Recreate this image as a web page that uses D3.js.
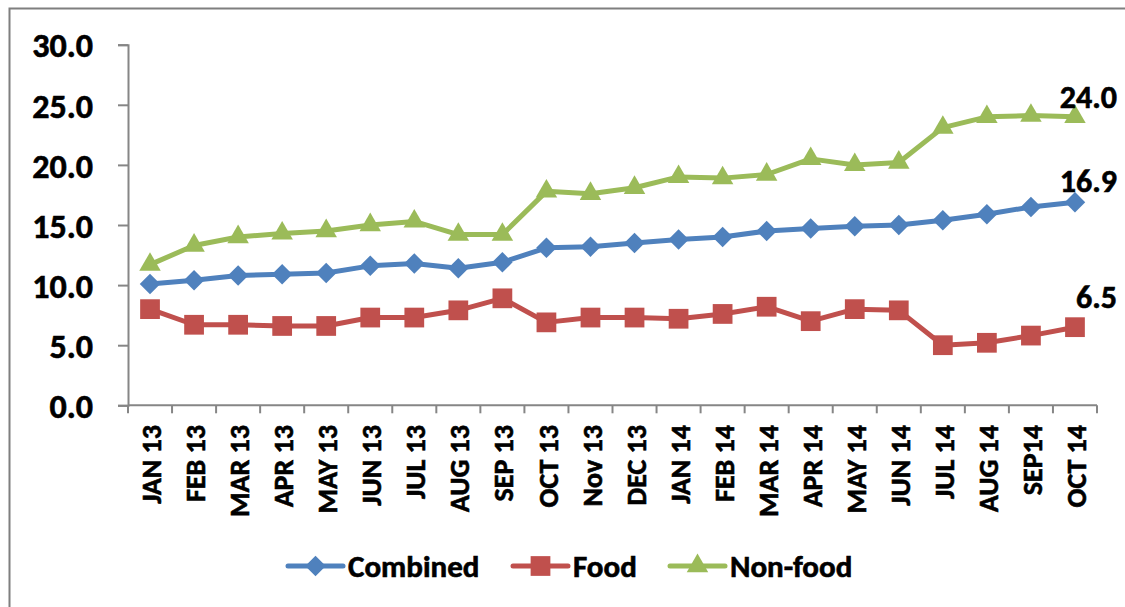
<!DOCTYPE html>
<html>
<head>
<meta charset="utf-8">
<script src="https://cdn.jsdelivr.net/npm/d3@7/dist/d3.min.js"></script>
<style>
  body { margin: 0; background: #fff; }
  svg text { font-family: Calibri, Carlito, Lato, sans-serif; font-weight: bold; fill: #000; stroke: #000; stroke-width: 0.6px; }
</style>
</head>
<body>
<svg id="chart" width="1125" height="607"></svg>
<script>
//
// D A T A
//
var months = ['JAN 13','FEB 13','MAR 13','APR 13','MAY 13','JUN 13','JUL 13','AUG 13','SEP 13','OCT 13','Nov 13','DEC 13',
              'JAN 14','FEB 14','MAR 14','APR 14','MAY 14','JUN 14','JUL 14','AUG 14','SEP14','OCT 14'];

var combined = [10.1, 10.4, 10.8, 10.9, 11.0, 11.6, 11.8, 11.4, 11.9, 13.1, 13.2, 13.5,
                13.8, 14.0, 14.5, 14.7, 14.9, 15.0, 15.4, 15.9, 16.5, 16.9];
var food     = [8.0, 6.7, 6.7, 6.6, 6.6, 7.3, 7.3, 7.9, 8.9, 6.9, 7.3, 7.3,
                7.2, 7.6, 8.2, 7.0, 8.0, 7.9, 5.0, 5.2, 5.8, 6.5];
var nonfood  = [11.7, 13.3, 14.0, 14.3, 14.5, 15.0, 15.3, 14.2, 14.2, 17.8, 17.6, 18.1,
                19.0, 18.9, 19.2, 20.5, 20.0, 20.2, 23.1, 24.0, 24.1, 24.0];

var yTicks = [0, 5, 10, 15, 20, 25, 30];

// diamond = square turned 45 degrees, like the Excel marker
var series = [
  { name: 'Combined', values: combined, color: '#4F81BD', symbol: d3.symbolSquare,   size: 210, rot: 45, labelDy: -10 },
  { name: 'Food',     values: food,     color: '#C0504D', symbol: d3.symbolSquare,   size: 390, rot: 0,  labelDy: -19 },
  { name: 'Non-food', values: nonfood,  color: '#9BBB59', symbol: d3.symbolTriangle, size: 200, rot: 0,  labelDy: -9 }
];

var svg = d3.select('#chart');

// frame around the chart area
svg.append('path')
  .attr('d', 'M9.5,607 L9.5,8.5 L1125,8.5')
  .attr('fill', 'none')
  .attr('stroke', '#7f7f7f')
  .attr('stroke-width', 2);

//
// S C A L E S
//
var x = d3.scaleBand().domain(months).range([128, 1097]);
var y = d3.scaleLinear().domain([0, 30]).range([405.3, 44.7]);
var cx = function(i){ return x(months[i]) + x.bandwidth() / 2; };

//
// A X E S
//
var yAxis = svg.append('g')
  .attr('transform', 'translate(128,0)')
  .call(d3.axisLeft(y).tickValues(yTicks).tickFormat(d3.format('.1f')).tickSize(10).tickPadding(25));
yAxis.select('.domain').attr('stroke', '#868686').attr('stroke-width', 2);
yAxis.selectAll('.tick line').attr('stroke', '#868686').attr('stroke-width', 2);
yAxis.selectAll('.tick text').style('font-size', '34px').attr('dy', '0.36em');

var xAxis = svg.append('g');
xAxis.append('line')
  .attr('x1', 128).attr('x2', 1097)
  .attr('y1', y(0)).attr('y2', y(0))
  .attr('stroke', '#868686').attr('stroke-width', 2);

var bounds = months.map(function(m){ return x(m); }).concat([x.range()[1]]);
xAxis.selectAll('line.tick')
  .data(bounds)
  .enter().append('line')
    .attr('class', 'tick')
    .attr('x1', function(d){ return d; })
    .attr('x2', function(d){ return d; })
    .attr('y1', y(0))
    .attr('y2', y(0) + 8)
    .attr('stroke', '#868686').attr('stroke-width', 2);

xAxis.selectAll('text')
  .data(months)
  .enter().append('text')
    .attr('transform', function(d, i){ return 'translate(' + (cx(i) + 1) + ',425) rotate(-90)'; })
    .attr('text-anchor', 'end')
    .attr('dy', '0.36em')
    .style('font-size', '28px')
    .text(function(d){ return d; });

//
// L I N E S   A N D   M A R K E R S
//
var line = d3.line()
  .x(function(d, i){ return cx(i); })
  .y(function(d){ return y(d); });

series.forEach(function(s){
  var g = svg.append('g');
  g.append('path')
    .attr('d', line(s.values))
    .attr('fill', 'none')
    .attr('stroke', s.color)
    .attr('stroke-width', 5)
    .attr('stroke-linejoin', 'round');

  g.selectAll('path.mk')
    .data(s.values)
    .enter().append('path')
      .attr('class', 'mk')
      .attr('d', d3.symbol().type(s.symbol).size(s.size))
      .attr('transform', function(d, i){ return 'translate(' + cx(i) + ',' + y(d) + ') rotate(' + s.rot + ')'; })
      .attr('fill', s.color);

  // value of the last month
  var last = s.values.length - 1;
  g.append('text')
    .attr('x', cx(last) + 42)
    .attr('y', y(s.values[last]) + s.labelDy)
    .attr('text-anchor', 'end')
    .style('font-size', '32px')
    .text(d3.format('.1f')(s.values[last]));
});

//
// L E G E N D
//
var legendX = [288, 513, 670];
var legend = svg.append('g').selectAll('g')
  .data(series)
  .enter().append('g')
    .attr('transform', function(d, i){ return 'translate(' + legendX[i] + ',566)'; });

legend.append('line')
  .attr('x1', 0).attr('x2', 55)
  .attr('stroke', function(d){ return d.color; })
  .attr('stroke-width', 5)
  .attr('stroke-linecap', 'round');
legend.append('path')
  .attr('d', function(d){ return d3.symbol().type(d.symbol).size(d.size)(); })
  .attr('transform', function(d){ return 'translate(27.5,0) rotate(' + d.rot + ')'; })
  .attr('fill', function(d){ return d.color; });
legend.append('text')
  .attr('x', 60)
  .attr('y', 11)
  .style('font-size', '31px')
  .text(function(d){ return d.name; });
</script>
</body>
</html>
